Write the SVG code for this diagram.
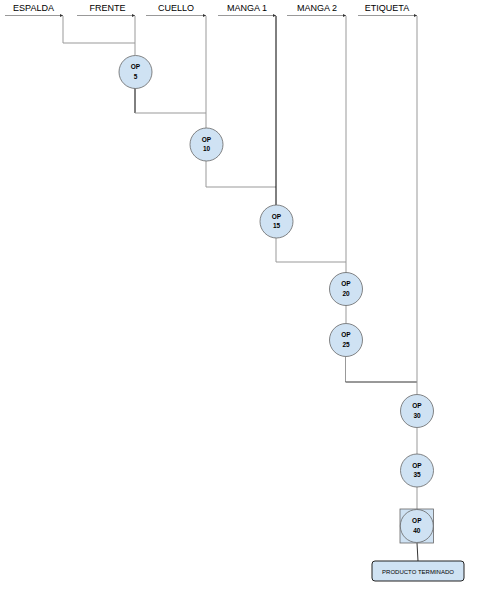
<svg xmlns="http://www.w3.org/2000/svg" width="484" height="599" viewBox="0 0 484 599">
<style>
.hdr{font-family:"Liberation Sans",Arial,sans-serif;font-size:9px;fill:#000;text-anchor:middle}
.op{font-family:"Liberation Sans",Arial,sans-serif;font-size:6.5px;font-weight:bold;fill:#000;text-anchor:middle}
.pt{font-family:"Liberation Sans",Arial,sans-serif;font-size:6px;fill:#000;text-anchor:middle}
.node{fill:#cfe2f3;stroke:#666;stroke-width:0.8}
.c{fill:none;stroke:#999;stroke-width:1}
.k{fill:none;stroke:#000;stroke-width:1}
.d{fill:none;stroke:#333;stroke-width:1}
</style>
<defs>
<marker id="ah" markerWidth="4" markerHeight="4" refX="3" refY="2" orient="auto" markerUnits="userSpaceOnUse">
<path d="M0,0.5 L3,2 L0,3.5 Z" fill="#333"/>
</marker>
</defs>
<rect width="484" height="599" fill="#fff"/>
<g id="headers">
<text class="hdr" x="33.5" y="11">ESPALDA</text>
<text class="hdr" x="107.5" y="11">FRENTE</text>
<text class="hdr" x="176" y="11">CUELLO</text>
<text class="hdr" x="247" y="11">MANGA 1</text>
<text class="hdr" x="317" y="11">MANGA 2</text>
<text class="hdr" x="387" y="11">ETIQUETA</text>
</g>
<g id="connectors">
<line class="c" x1="5" y1="15.5" x2="63" y2="15.5" marker-end="url(#ah)"/>
<line class="c" x1="77" y1="15.5" x2="135" y2="15.5" marker-end="url(#ah)"/>
<line class="c" x1="146" y1="15.5" x2="206" y2="15.5" marker-end="url(#ah)"/>
<line class="c" x1="218" y1="15.5" x2="276" y2="15.5" marker-end="url(#ah)"/>
<line class="c" x1="287" y1="15.5" x2="346" y2="15.5" marker-end="url(#ah)"/>
<line class="c" x1="358" y1="15.5" x2="417" y2="15.5" marker-end="url(#ah)"/>
<polyline class="c" points="63,16 63,43 135,43"/>
<line class="c" x1="135" y1="16" x2="135" y2="55"/>
<line class="k" x1="135" y1="88" x2="135" y2="113"/>
<line class="c" x1="135" y1="113" x2="206" y2="113"/>
<line class="c" x1="206" y1="16" x2="206" y2="128"/>
<polyline class="c" points="206,161 206,187 276,187"/>
<line class="k" x1="276" y1="16" x2="276" y2="205"/>
<polyline class="c" points="276,238 276,262 346,262"/>
<line class="c" x1="346" y1="16" x2="346" y2="273"/>
<line class="c" x1="346" y1="305" x2="346" y2="323"/>
<line class="c" x1="345.5" y1="357" x2="345.5" y2="382"/>
<line class="d" x1="345.5" y1="382" x2="417" y2="382"/>
<line class="c" x1="417" y1="16" x2="417" y2="394"/>
<line class="c" x1="417" y1="428" x2="417" y2="454"/>
<line class="c" x1="417" y1="487" x2="417" y2="509"/>
<line class="d" x1="417" y1="543" x2="418" y2="561"/>
</g>
<g id="op5"><circle class="node" cx="135.5" cy="72" r="16.5"/><text class="op" x="135.5" y="69">OP</text><text class="op" x="135.5" y="78.5">5</text></g>
<g id="op10"><circle class="node" cx="206.5" cy="144.5" r="16.5"/><text class="op" x="206.5" y="141.5">OP</text><text class="op" x="206.5" y="151">10</text></g>
<g id="op15"><circle class="node" cx="276.5" cy="221.5" r="16.5"/><text class="op" x="276.5" y="218.5">OP</text><text class="op" x="276.5" y="228">15</text></g>
<g id="op20"><circle class="node" cx="346" cy="289" r="16.5"/><text class="op" x="346" y="286">OP</text><text class="op" x="346" y="295.5">20</text></g>
<g id="op25"><circle class="node" cx="346" cy="340" r="16.5"/><text class="op" x="346" y="337">OP</text><text class="op" x="346" y="346.5">25</text></g>
<g id="op30"><circle class="node" cx="417" cy="411" r="16.5"/><text class="op" x="417" y="408">OP</text><text class="op" x="417" y="417.5">30</text></g>
<g id="op35"><circle class="node" cx="417" cy="470.5" r="16.5"/><text class="op" x="417" y="467.5">OP</text><text class="op" x="417" y="477">35</text></g>
<g id="op40"><rect x="400" y="509" width="33.5" height="34" fill="#cfe2f3" stroke="#666" stroke-width="0.8"/><circle class="node" cx="416.8" cy="526" r="16.5"/><text class="op" x="416.8" y="523">OP</text><text class="op" x="416.8" y="532.5">40</text></g>
<g id="producto"><rect x="372" y="561" width="92" height="20" rx="3" fill="#cfe2f3" stroke="#222" stroke-width="1"/><text class="pt" x="418" y="573.5">PRODUCTO TERMINADO</text></g>
</svg>
